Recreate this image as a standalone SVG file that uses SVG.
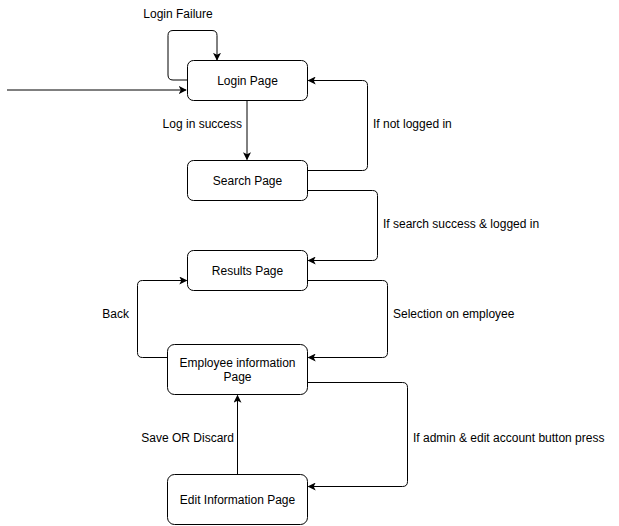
<svg xmlns="http://www.w3.org/2000/svg" width="619" height="526" viewBox="0 0 619 526">
<defs>
<style>
.node rect{fill:#fff;stroke:#000;stroke-width:1}
.node text{font-family:"Liberation Sans",Arial,sans-serif;font-size:12px;fill:#000;text-anchor:middle}
.edge{fill:none;stroke:#000;stroke-width:1}
.lbl{font-family:"Liberation Sans",Arial,sans-serif;font-size:12px;fill:#000}
</style>
<marker id="arr" viewBox="0 0 10 10" refX="9" refY="5" markerWidth="8" markerHeight="8" markerUnits="userSpaceOnUse" orient="auto">
<path d="M0,0 L10,5 L0,10 L2.5,5 Z" fill="#000"/>
</marker>
</defs>
<rect width="619" height="526" fill="#fff"/>
<g id="connectors">
<path class="edge" d="M7,90 H186" marker-end="url(#arr)"/>
<path class="edge" d="M187,80 H173 Q168,80 168,75 V35.5 Q168,30.5 173,30.5 H212 Q217,30.5 217,35.5 V60" marker-end="url(#arr)"/>
<path class="edge" d="M247,100.5 V159.5" marker-end="url(#arr)"/>
<path class="edge" d="M307.5,170.5 H362.5 Q367.5,170.5 367.5,165.5 V85.5 Q367.5,80.5 362.5,80.5 H308.5" marker-end="url(#arr)"/>
<path class="edge" d="M307.5,190.5 H372.5 Q377.5,190.5 377.5,195.5 V255.5 Q377.5,260.5 372.5,260.5 H308.5" marker-end="url(#arr)"/>
<path class="edge" d="M307.5,280.5 H382.5 Q387.5,280.5 387.5,285.5 V352.5 Q387.5,357.5 382.5,357.5 H308.5" marker-end="url(#arr)"/>
<path class="edge" d="M167.5,357.5 H142.5 Q137.5,357.5 137.5,352.5 V285.5 Q137.5,280.5 142.5,280.5 H186.5" marker-end="url(#arr)"/>
<path class="edge" d="M307.5,382.5 H402.5 Q407.5,382.5 407.5,387.5 V481.5 Q407.5,486.5 402.5,486.5 H308.5" marker-end="url(#arr)"/>
<path class="edge" d="M237.5,474.5 V395.5" marker-end="url(#arr)"/>
<text class="lbl" x="178" y="18" text-anchor="middle">Login Failure</text>
<text class="lbl" x="242" y="128" text-anchor="end">Log in success</text>
<text class="lbl" x="373" y="128">If not logged in</text>
<text class="lbl" x="383" y="228">If search success &amp; logged in</text>
<text class="lbl" x="393" y="318">Selection on employee</text>
<text class="lbl" x="129" y="318" text-anchor="end">Back</text>
<text class="lbl" x="413" y="442">If admin &amp; edit account button press</text>
<text class="lbl" x="234" y="442" text-anchor="end">Save OR Discard</text>
</g>
<g id="login" class="node">
<rect x="187.5" y="60.5" width="120" height="40" rx="6"/>
<text x="247.5" y="85">Login Page</text>
</g>
<g id="search" class="node">
<rect x="187.5" y="160.5" width="120" height="40" rx="6"/>
<text x="247.5" y="185">Search Page</text>
</g>
<g id="results" class="node">
<rect x="187.5" y="250.5" width="120" height="40" rx="6"/>
<text x="247.5" y="275">Results Page</text>
</g>
<g id="employee" class="node">
<rect x="167.5" y="344.5" width="140" height="50" rx="7"/>
<text x="237.5" y="367">Employee information</text>
<text x="237.5" y="381">Page</text>
</g>
<g id="edit" class="node">
<rect x="167.5" y="474.5" width="140" height="50" rx="7"/>
<text x="237.5" y="504">Edit Information Page</text>
</g>
</svg>
